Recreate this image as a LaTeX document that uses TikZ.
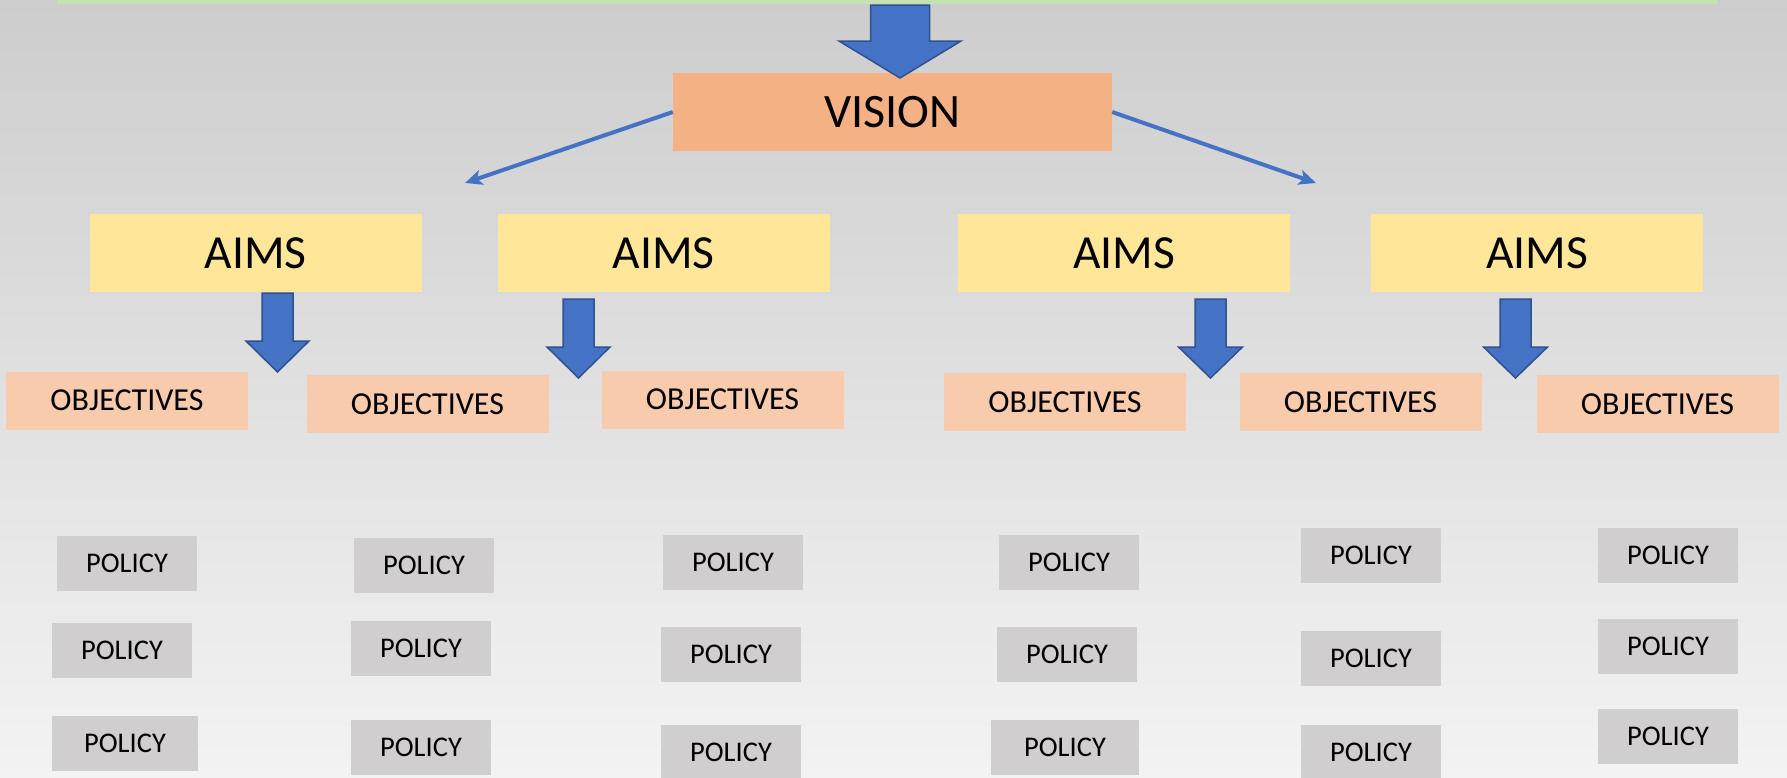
\documentclass[tikz,border=0pt]{standalone}
\usepackage{fontspec}
\setmainfont{Carlito}
\usetikzlibrary{arrows.meta}
\definecolor{bgtop}{HTML}{CDCDCD}
\definecolor{bgbottom}{HTML}{F3F3F3}
\definecolor{bandgreen}{HTML}{C5E0B4}
\definecolor{visionfill}{HTML}{F4B183}
\definecolor{aimfill}{HTML}{FFE699}
\definecolor{objfill}{HTML}{F8CBAD}
\definecolor{policyfill}{HTML}{D0CECE}
\definecolor{arrowblue}{HTML}{4472C4}
\definecolor{arrowedge}{HTML}{2F528F}
\tikzstyle{vision} = [fill=visionfill, rectangle, inner sep=0pt, minimum width=439pt, minimum height=78pt, font=\fontsize{48}{52}\selectfont]
\tikzstyle{aim} = [fill=aimfill, rectangle, inner sep=0pt, minimum width=332pt, minimum height=78pt, font=\fontsize{47.5}{52}\selectfont]
\tikzstyle{objective} = [fill=objfill, rectangle, inner sep=0pt, minimum width=242pt, minimum height=58pt, font=\fontsize{32}{36}\selectfont]
\tikzstyle{policy} = [fill=policyfill, rectangle, inner sep=0pt, minimum width=140pt, minimum height=55pt, font=\fontsize{28.5}{32}\selectfont]
\tikzstyle{fatarrow} = [fill=arrowblue, draw=arrowedge, line width=1.5pt]
\tikzstyle{link} = [-{Stealth[length=17pt, width=15pt, inset=4pt]}, draw=arrowblue, line width=4pt]
% centre x, top, neck, tip, half shaft, half head
\newcommand{\blockarrow}[6]{\draw[fatarrow] (#1-#5,#2) -- (#1+#5,#2) -- (#1+#5,#3) -- (#1+#6,#3) -- (#1,#4) -- (#1-#6,#3) -- (#1-#5,#3) -- cycle;}

\begin{document}
\begin{tikzpicture}[x=1pt, y=-1pt]

	\useasboundingbox (0,0) rectangle (1787,777);
	\shade [top color=bgtop, bottom color=bgbottom] (0,0) rectangle (1787,777);
	\fill [bandgreen] (57,0) rectangle (1718,4);

	\node [vision] (vision) at (892.5,112) {VISION};
	\blockarrow{900}{5}{41}{78}{29.5}{61}

	\node [aim] (aimA) at (255.5,253) {AIMS};
	\node [aim] (aimB) at (663.5,253) {AIMS};
	\node [aim] (aimC) at (1124,253) {AIMS};
	\node [aim] (aimD) at (1537,253) {AIMS};

	\coordinate (leftEnd) at (465,183);
	\coordinate (rightEnd) at (1316,183);
	\draw [link] (vision.west) -- (leftEnd);
	\draw [link] (vision.east) -- (rightEnd);

	\blockarrow{277.5}{293}{341}{372}{15.5}{31.5}
	\blockarrow{578.5}{299}{347}{378}{15.5}{31.5}
	\blockarrow{1210.5}{299}{347}{378}{15.5}{32}
	\blockarrow{1515.5}{299}{347}{378}{15.5}{32}

	\node [objective] (objA) at (127,400.5) {OBJECTIVES};
	\node [objective] (objB) at (427.5,404) {OBJECTIVES};
	\node [objective] (objC) at (722.5,399.5) {OBJECTIVES};
	\node [objective] (objD) at (1065,402) {OBJECTIVES};
	\node [objective] (objE) at (1360.5,402) {OBJECTIVES};
	\node [objective] (objF) at (1657.5,404) {OBJECTIVES};

	\node [policy] (polA1) at (127,563.5) {POLICY};
	\node [policy] (polA2) at (122,650.5) {POLICY};
	\node [policy, minimum width=146pt] (polA3) at (125,743.5) {POLICY};
	\node [policy] (polB1) at (424,565.5) {POLICY};
	\node [policy] (polB2) at (421,648.5) {POLICY};
	\node [policy] (polB3) at (421,747.5) {POLICY};
	\node [policy] (polC1) at (733,562.5) {POLICY};
	\node [policy] (polC2) at (731,654.5) {POLICY};
	\node [policy] (polC3) at (731,752.5) {POLICY};
	\node [policy] (polD1) at (1069,562.5) {POLICY};
	\node [policy] (polD2) at (1067,654.5) {POLICY};
	\node [policy, minimum width=148pt] (polD3) at (1065,747.5) {POLICY};
	\node [policy] (polE1) at (1371,555.5) {POLICY};
	\node [policy] (polE2) at (1371,658.5) {POLICY};
	\node [policy] (polE3) at (1371,752.5) {POLICY};
	\node [policy] (polF1) at (1668,555.5) {POLICY};
	\node [policy] (polF2) at (1668,646.5) {POLICY};
	\node [policy] (polF3) at (1668,736.5) {POLICY};
\end{tikzpicture}
\end{document}
